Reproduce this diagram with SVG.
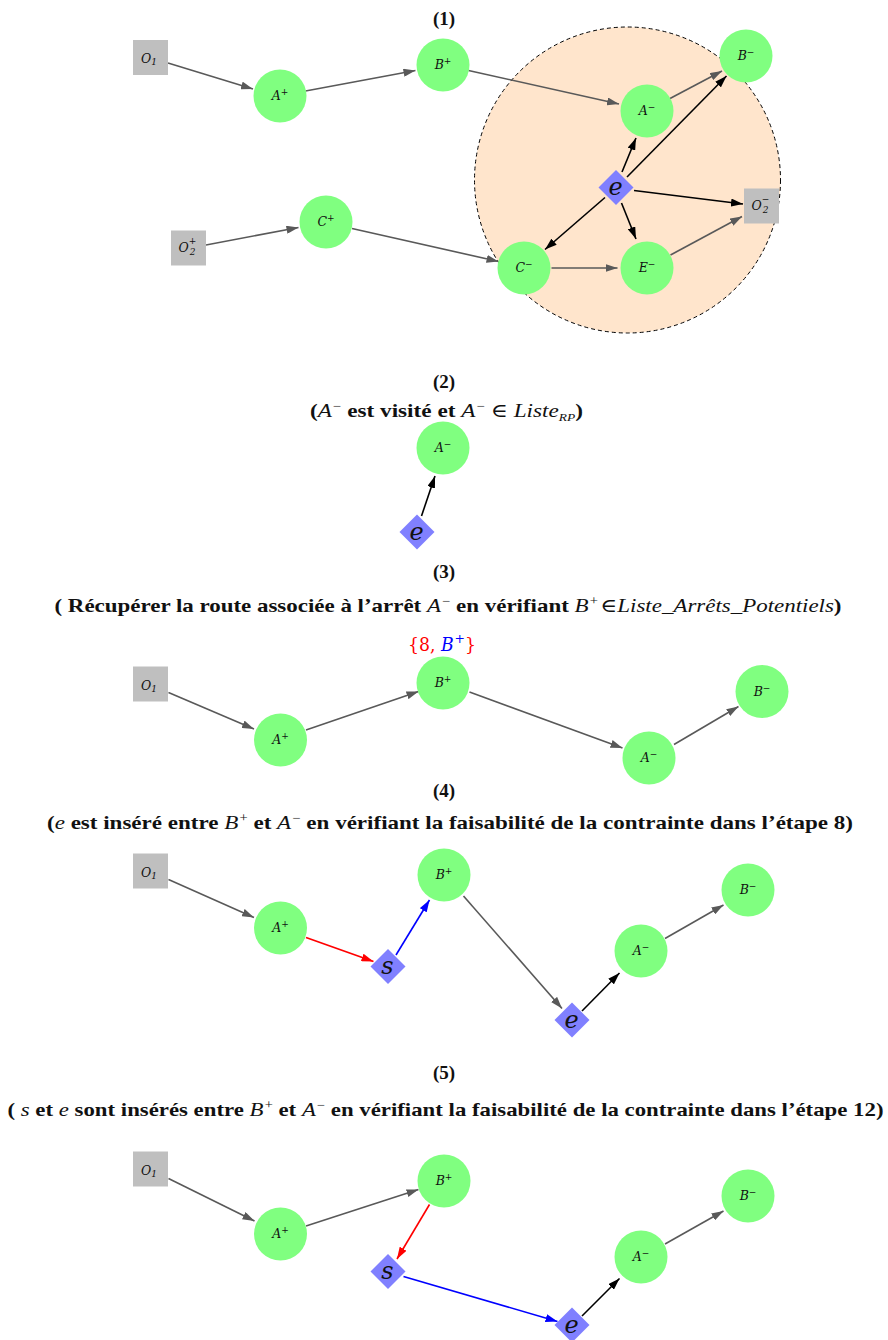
<svg xmlns="http://www.w3.org/2000/svg" xmlns:xlink="http://www.w3.org/1999/xlink" width="888" height="1340" viewBox="0 0 888 1340">
<style>
.nd{fill:#80ff80}
.bx{fill:#bfbfbf}
.dia{fill:#8080ff}
.lbl{font-family:"DejaVu Serif",serif;font-style:italic;font-size:12.5px;fill:#111;text-anchor:middle}
.big{font-family:"DejaVu Serif",serif;font-style:italic;font-size:24px;fill:#111;text-anchor:middle}
.sm{font-size:9px}
.tt{font-family:"Liberation Serif","DejaVu Serif",serif;font-weight:bold;font-size:19px;fill:#111;text-anchor:middle}
.m{font-style:italic;font-weight:normal}
.n{font-weight:normal}
.sp{font-weight:normal;font-size:12px}
.e{fill:none;stroke-width:1.6}
.g{stroke:#595959;marker-end:url(#ag)}
.k{stroke:#000;marker-end:url(#ak)}
.r{stroke:#f00;marker-end:url(#ar)}
.b{stroke:#00f;marker-end:url(#ab)}
</style>
<defs>
<marker id="ag" markerUnits="userSpaceOnUse" markerWidth="12" markerHeight="8" refX="12" refY="4" orient="auto"><path d="M0,0 L12,4 L0,8 Z" fill="#595959"/></marker>
<marker id="ak" markerUnits="userSpaceOnUse" markerWidth="12" markerHeight="8" refX="12" refY="4" orient="auto"><path d="M0,0 L12,4 L0,8 Z" fill="#000"/></marker>
<marker id="ar" markerUnits="userSpaceOnUse" markerWidth="12" markerHeight="8" refX="12" refY="4" orient="auto"><path d="M0,0 L12,4 L0,8 Z" fill="#f00"/></marker>
<marker id="ab" markerUnits="userSpaceOnUse" markerWidth="12" markerHeight="8" refX="12" refY="4" orient="auto"><path d="M0,0 L12,4 L0,8 Z" fill="#00f"/></marker>
<path id="dm" d="M0,-17.5 L17.5,0 L0,17.5 L-17.5,0 Z"/>
</defs>

<g id="titles">
<text class="tt" x="444" y="25">(1)</text>
<text class="tt" x="444" y="388">(2)</text>
<text class="tt" x="446.5" y="417" textLength="273" lengthAdjust="spacingAndGlyphs">(<tspan class="m">A</tspan><tspan class="sp" dx="1" dy="-7">−</tspan><tspan dy="7"> est visité et </tspan><tspan class="m">A</tspan><tspan class="sp" dx="1" dy="-7">−</tspan><tspan class="n" dy="7"> ∈ </tspan><tspan class="m">Liste</tspan><tspan class="m" font-size="11" dy="4">RP</tspan><tspan dy="-4">)</tspan></text>
<text class="tt" x="444" y="578">(3)</text>
<text class="tt" x="448" y="612" textLength="787" lengthAdjust="spacingAndGlyphs">( Récupérer la route associée à l’arrêt  <tspan class="m">A</tspan><tspan class="sp" dx="1" dy="-7">−</tspan><tspan dy="7"> en vérifiant  </tspan><tspan class="m">B</tspan><tspan class="sp" dx="1" dy="-7">+</tspan><tspan class="n" dx="2" dy="7">∈</tspan><tspan class="m">Liste_Arrêts_Potentiels</tspan>)</text>
<text x="442" y="651" font-family="DejaVu Serif, serif" font-size="18" text-anchor="middle" textLength="68" lengthAdjust="spacingAndGlyphs"><tspan fill="#f00">{8, </tspan><tspan fill="#00f" font-style="italic">B</tspan><tspan fill="#00f" font-size="13" dx="1" dy="-8">+</tspan><tspan fill="#f00" dy="8">}</tspan></text>
<text class="tt" x="444" y="797">(4)</text>
<text class="tt" x="450" y="829" textLength="806" lengthAdjust="spacingAndGlyphs">(<tspan class="m">e</tspan> est inséré entre <tspan class="m">B</tspan><tspan class="sp" dx="1" dy="-7">+</tspan><tspan dy="7"> et </tspan><tspan class="m">A</tspan><tspan class="sp" dx="1" dy="-7">−</tspan><tspan dy="7"> en vérifiant la faisabilité de la contrainte dans l’étape 8)</tspan></text>
<text class="tt" x="444" y="1079">(5)</text>
<text class="tt" x="445.5" y="1116" textLength="876" lengthAdjust="spacingAndGlyphs">( <tspan class="m">s</tspan> et <tspan class="m">e</tspan> sont insérés entre <tspan class="m">B</tspan><tspan class="sp" dx="1" dy="-7">+</tspan><tspan dy="7"> et </tspan><tspan class="m">A</tspan><tspan class="sp" dx="1" dy="-7">−</tspan><tspan dy="7"> en vérifiant la faisabilité de la contrainte dans l’étape 12)</tspan></text>
</g>

<circle id="zone" cx="627.5" cy="180" r="153" fill="#ffe5cc" stroke="#000" stroke-width="1" stroke-dasharray="4,3"/>

<g id="connectors">
<line class="e g" x1="168" y1="63" x2="253" y2="89"/>
<line class="e g" x1="305.5" y1="91" x2="415.5" y2="70.5"/>
<line class="e g" x1="468.5" y1="70.5" x2="619" y2="104"/>
<line class="e g" x1="670" y1="98.5" x2="722" y2="71"/>
<line class="e k" x1="622" y1="172" x2="636" y2="138"/>
<line class="e k" x1="627" y1="177" x2="726.5" y2="76"/>
<line class="e k" x1="634" y1="190.5" x2="743" y2="204"/>
<line class="e k" x1="621.5" y1="203" x2="636" y2="239"/>
<line class="e k" x1="605" y1="197.5" x2="545" y2="249.5"/>
<line class="e g" x1="551.5" y1="268" x2="617.5" y2="268"/>
<line class="e g" x1="670.5" y1="255" x2="742" y2="216.5"/>
<line class="e g" x1="206" y1="245" x2="298.5" y2="227.5"/>
<line class="e g" x1="352" y1="228.5" x2="498.5" y2="261.5"/>
<line class="e k" x1="421.5" y1="516" x2="435" y2="476"/>
<line class="e g" x1="168.5" y1="692.5" x2="254" y2="729"/>
<line class="e g" x1="306" y1="730" x2="418.5" y2="691.5"/>
<line class="e g" x1="469.5" y1="692" x2="622.5" y2="748"/>
<line class="e g" x1="674" y1="744.5" x2="738.5" y2="706.5"/>
<line class="e g" x1="168.5" y1="879.5" x2="254" y2="917.5"/>
<line class="e r" x1="306" y1="937.5" x2="373.5" y2="961.5"/>
<line class="e b" x1="396" y1="955" x2="429.5" y2="900"/>
<line class="e g" x1="463.5" y1="896" x2="562" y2="1008.5"/>
<line class="e k" x1="582" y1="1011" x2="619.5" y2="973"/>
<line class="e g" x1="665" y1="938.5" x2="723.5" y2="905"/>
<line class="e g" x1="168.5" y1="1178.5" x2="254.5" y2="1221"/>
<line class="e g" x1="306" y1="1226" x2="418.5" y2="1189.5"/>
<line class="e r" x1="429.5" y1="1204.5" x2="397" y2="1259"/>
<line class="e b" x1="403.5" y1="1276.5" x2="557.5" y2="1321.5"/>
<line class="e k" x1="582" y1="1316" x2="619.5" y2="1278.5"/>
<line class="e g" x1="665" y1="1244" x2="723.5" y2="1211"/>
</g>

<g id="p1-O1"><rect class="bx" x="133" y="40" width="35" height="35"/><text class="lbl" x="149" y="63">O<tspan class="sm" dy="2">1</tspan></text></g>
<g id="p1-Ap"><circle class="nd" cx="280" cy="96" r="26.5"/><text class="lbl" x="280" y="100">A<tspan class="sm" dy="-5">+</tspan></text></g>
<g id="p1-Bp"><circle class="nd" cx="443" cy="65" r="26.5"/><text class="lbl" x="443" y="69">B<tspan class="sm" dy="-5">+</tspan></text></g>
<g id="p1-Am"><circle class="nd" cx="647" cy="111" r="26.5"/><text class="lbl" x="647" y="115">A<tspan class="sm" dy="-5">−</tspan></text></g>
<g id="p1-Bm"><circle class="nd" cx="746" cy="56" r="26.5"/><text class="lbl" x="746" y="60">B<tspan class="sm" dy="-5">−</tspan></text></g>
<g id="p1-Cp"><circle class="nd" cx="326" cy="222" r="26.5"/><text class="lbl" x="326" y="226">C<tspan class="sm" dy="-5">+</tspan></text></g>
<g id="p1-Cm"><circle class="nd" cx="524" cy="268" r="26.5"/><text class="lbl" x="524" y="272">C<tspan class="sm" dy="-5">−</tspan></text></g>
<g id="p1-Em"><circle class="nd" cx="647" cy="268" r="26.5"/><text class="lbl" x="647" y="272">E<tspan class="sm" dy="-5">−</tspan></text></g>
<g id="p1-O2p"><rect class="bx" x="171" y="230.5" width="35" height="35"/><text class="lbl" x="183.5" y="251.5">O</text><text class="lbl sm" x="192.5" y="244">+</text><text class="lbl sm" x="192.5" y="255">2</text></g>
<g id="p1-O2m"><rect class="bx" x="744" y="188.5" width="35" height="35"/><text class="lbl" x="756.5" y="209.5">O</text><text class="lbl sm" x="765.5" y="202">−</text><text class="lbl sm" x="765.5" y="213">2</text></g>
<g id="p1-e"><use xlink:href="#dm" class="dia" x="616" y="187.5"/><text class="big" x="615.5" y="195">e</text></g>

<g id="p2-Am"><circle class="nd" cx="443" cy="448" r="26.5"/><text class="lbl" x="443" y="452">A<tspan class="sm" dy="-5">−</tspan></text></g>
<g id="p2-e"><use xlink:href="#dm" class="dia" x="417" y="532"/><text class="big" x="416.5" y="539.5">e</text></g>

<g id="p3-O1"><rect class="bx" x="133" y="666.5" width="35" height="35"/><text class="lbl" x="149" y="689.5">O<tspan class="sm" dy="2">1</tspan></text></g>
<g id="p3-Ap"><circle class="nd" cx="280.5" cy="740" r="26.5"/><text class="lbl" x="280.5" y="744">A<tspan class="sm" dy="-5">+</tspan></text></g>
<g id="p3-Bp"><circle class="nd" cx="443" cy="683" r="26.5"/><text class="lbl" x="443" y="687">B<tspan class="sm" dy="-5">+</tspan></text></g>
<g id="p3-Am"><circle class="nd" cx="649" cy="758" r="26.5"/><text class="lbl" x="649" y="762">A<tspan class="sm" dy="-5">−</tspan></text></g>
<g id="p3-Bm"><circle class="nd" cx="762" cy="691.5" r="26.5"/><text class="lbl" x="762" y="695.5">B<tspan class="sm" dy="-5">−</tspan></text></g>

<g id="p4-O1"><rect class="bx" x="133" y="853.5" width="35" height="35"/><text class="lbl" x="149" y="876.5">O<tspan class="sm" dy="2">1</tspan></text></g>
<g id="p4-Ap"><circle class="nd" cx="280.5" cy="928" r="26.5"/><text class="lbl" x="280.5" y="932">A<tspan class="sm" dy="-5">+</tspan></text></g>
<g id="p4-s"><use xlink:href="#dm" class="dia" x="388" y="966.5"/><text class="big" x="387.5" y="974">s</text></g>
<g id="p4-Bp"><circle class="nd" cx="444" cy="875" r="26.5"/><text class="lbl" x="444" y="879">B<tspan class="sm" dy="-5">+</tspan></text></g>
<g id="p4-e"><use xlink:href="#dm" class="dia" x="572" y="1020"/><text class="big" x="571.5" y="1027.5">e</text></g>
<g id="p4-Am"><circle class="nd" cx="641" cy="951" r="26.5"/><text class="lbl" x="641" y="955">A<tspan class="sm" dy="-5">−</tspan></text></g>
<g id="p4-Bm"><circle class="nd" cx="748" cy="890" r="26.5"/><text class="lbl" x="748" y="894">B<tspan class="sm" dy="-5">−</tspan></text></g>

<g id="p5-O1"><rect class="bx" x="133" y="1151.5" width="35" height="35"/><text class="lbl" x="149" y="1174.5">O<tspan class="sm" dy="2">1</tspan></text></g>
<g id="p5-Ap"><circle class="nd" cx="280.5" cy="1234" r="26.5"/><text class="lbl" x="280.5" y="1238">A<tspan class="sm" dy="-5">+</tspan></text></g>
<g id="p5-Bp"><circle class="nd" cx="444" cy="1181" r="26.5"/><text class="lbl" x="444" y="1185">B<tspan class="sm" dy="-5">+</tspan></text></g>
<g id="p5-s"><use xlink:href="#dm" class="dia" x="388" y="1271.5"/><text class="big" x="387.5" y="1279">s</text></g>
<g id="p5-e"><use xlink:href="#dm" class="dia" x="572" y="1325"/><text class="big" x="571.5" y="1332.5">e</text></g>
<g id="p5-Am"><circle class="nd" cx="641" cy="1257" r="26.5"/><text class="lbl" x="641" y="1261">A<tspan class="sm" dy="-5">−</tspan></text></g>
<g id="p5-Bm"><circle class="nd" cx="748" cy="1196" r="26.5"/><text class="lbl" x="748" y="1200">B<tspan class="sm" dy="-5">−</tspan></text></g>
</svg>
